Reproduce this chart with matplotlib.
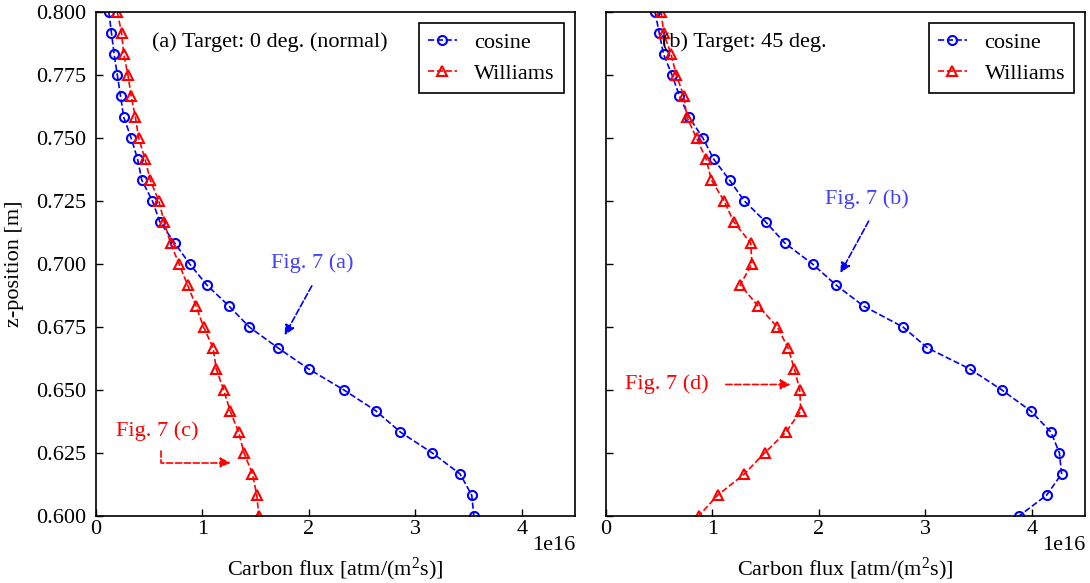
import numpy as np
import matplotlib
matplotlib.use("Agg")
import matplotlib.pyplot as plt

plt.rcParams["font.family"] = ["Liberation Serif", "DejaVu Serif"]
plt.rcParams["mathtext.fontset"] = "custom"
plt.rcParams["mathtext.rm"] = "Liberation Serif"
plt.rcParams["mathtext.default"] = "regular"
plt.rcParams["font.size"] = 16

# z-position [m] of each sample (top to bottom)
z_pos = [0.8000, 0.7917, 0.7833, 0.7750, 0.7667, 0.7583, 0.7500, 0.7417, 0.7333,
         0.7250, 0.7167, 0.7083, 0.7000, 0.6917, 0.6833, 0.6750, 0.6667, 0.6583,
         0.6500, 0.6417, 0.6333, 0.6250, 0.6167, 0.6083, 0.6000]

# carbon flux in units of 1e16 atm/(m^2 s)
cos_0 = [0.12, 0.145, 0.17, 0.20, 0.23, 0.26, 0.33, 0.39, 0.43, 0.53, 0.60, 0.74, 0.88,
         1.04, 1.25, 1.44, 1.71, 2.00, 2.33, 2.63, 2.86, 3.16, 3.42, 3.53, 3.55]
will_0 = [0.20, 0.24, 0.26, 0.30, 0.33, 0.37, 0.40, 0.46, 0.51, 0.59, 0.64, 0.70, 0.78,
          0.86, 0.94, 1.01, 1.10, 1.13, 1.20, 1.26, 1.34, 1.39, 1.47, 1.51, 1.53]
cos_45 = [0.46, 0.50, 0.54, 0.62, 0.69, 0.78, 0.91, 1.01, 1.16, 1.30, 1.50, 1.68, 1.94,
          2.16, 2.42, 2.79, 3.02, 3.42, 3.72, 3.99, 4.18, 4.26, 4.28, 4.14, 3.88]
will_45 = [0.52, 0.54, 0.61, 0.66, 0.73, 0.76, 0.85, 0.94, 0.99, 1.11, 1.20, 1.36, 1.37,
           1.26, 1.43, 1.61, 1.71, 1.77, 1.82, 1.83, 1.69, 1.49, 1.30, 1.05, 0.87]

titles = ["(a) Target: 0 deg. (normal)", "(b) Target: 45 deg."]
scale = 1e16

fig = plt.figure(figsize=(10.9, 5.83), dpi=100)
ax1 = fig.add_axes([0.0881, 0.1149, 0.4394, 0.8645])
ax2 = fig.add_axes([0.5560, 0.1149, 0.4394, 0.8645], sharey=ax1)

z = np.array(z_pos)
for ax, c, w, t in [(ax1, cos_0, will_0, titles[0]), (ax2, cos_45, will_45, titles[1])]:
    ax.plot(np.array(c) * scale, z, "--o", color="blue", lw=1.2, ms=6.5, mfc="none", mew=1.5, label="cosine")
    ax.plot(np.array(w) * scale, z, "--^", color="red", lw=1.2, ms=6.5, mfc="none", mew=1.5, label="Williams")
    ax.set_xlim(0, 4.5 * scale)
    ax.set_ylim(0.6, 0.8)
    ax.set_xticks(np.arange(0, 5) * scale)
    ax.tick_params(direction="in", length=5, width=1)
    ax.tick_params(axis="x", pad=3)
    ax.tick_params(axis="y", pad=7)
    for s in ax.spines.values():
        s.set_linewidth(1.2)
    ax.set_xlabel("Carbon flux [atm/(m$^{2}$s)]", labelpad=12)
    ax.xaxis.get_offset_text().set_visible(False)
    ax.text(1.0, -0.058, "1e16", transform=ax.transAxes, ha="right", va="center")
    ax.text(0.117, 0.94, t, transform=ax.transAxes, ha="left", va="center")
    leg = ax.legend(loc="upper right", fancybox=False, framealpha=1, edgecolor="black",
                    handlelength=1.3, handletextpad=0.8)
    leg.get_frame().set_linewidth(1.2)

ax1.set_ylabel("z-position [m]")
ax1.yaxis.set_label_coords(-0.150, 0.5)
plt.setp(ax2.get_yticklabels(), visible=False)

arr_b = dict(arrowstyle="-|>", linestyle="--", lw=1.2, color="blue", mutation_scale=15)
arr_r = dict(arrowstyle="-|>", linestyle="--", lw=1.2, color="red", mutation_scale=15)

# Fig. 7 (a)
ax1.text(1.64 * scale, 0.7002, "Fig. 7 (a)", color="#4040ff", va="center", ha="left")
ax1.annotate("", xy=(1.76 * scale, 0.6708), xytext=(2.04 * scale, 0.6923), arrowprops=arr_b)
# Fig. 7 (c)
ax1.text(0.19 * scale, 0.6338, "Fig. 7 (c)", color="red", va="center", ha="left")
ax1.annotate("", xy=(1.29 * scale, 0.6212), xytext=(0.61 * scale, 0.6268),
             arrowprops=dict(arr_r, connectionstyle="angle,angleA=90,angleB=0,rad=0"))
# Fig. 7 (b)
ax2.text(2.06 * scale, 0.7256, "Fig. 7 (b)", color="#4040ff", va="center", ha="left")
ax2.annotate("", xy=(2.19 * scale, 0.6955), xytext=(2.48 * scale, 0.7180), arrowprops=arr_b)
# Fig. 7 (d)
ax2.text(0.18 * scale, 0.6525, "Fig. 7 (d)", color="red", va="center", ha="left")
ax2.annotate("", xy=(1.76 * scale, 0.6522), xytext=(1.10 * scale, 0.6522), arrowprops=arr_r)

fig.savefig("out.png", dpi=100)
